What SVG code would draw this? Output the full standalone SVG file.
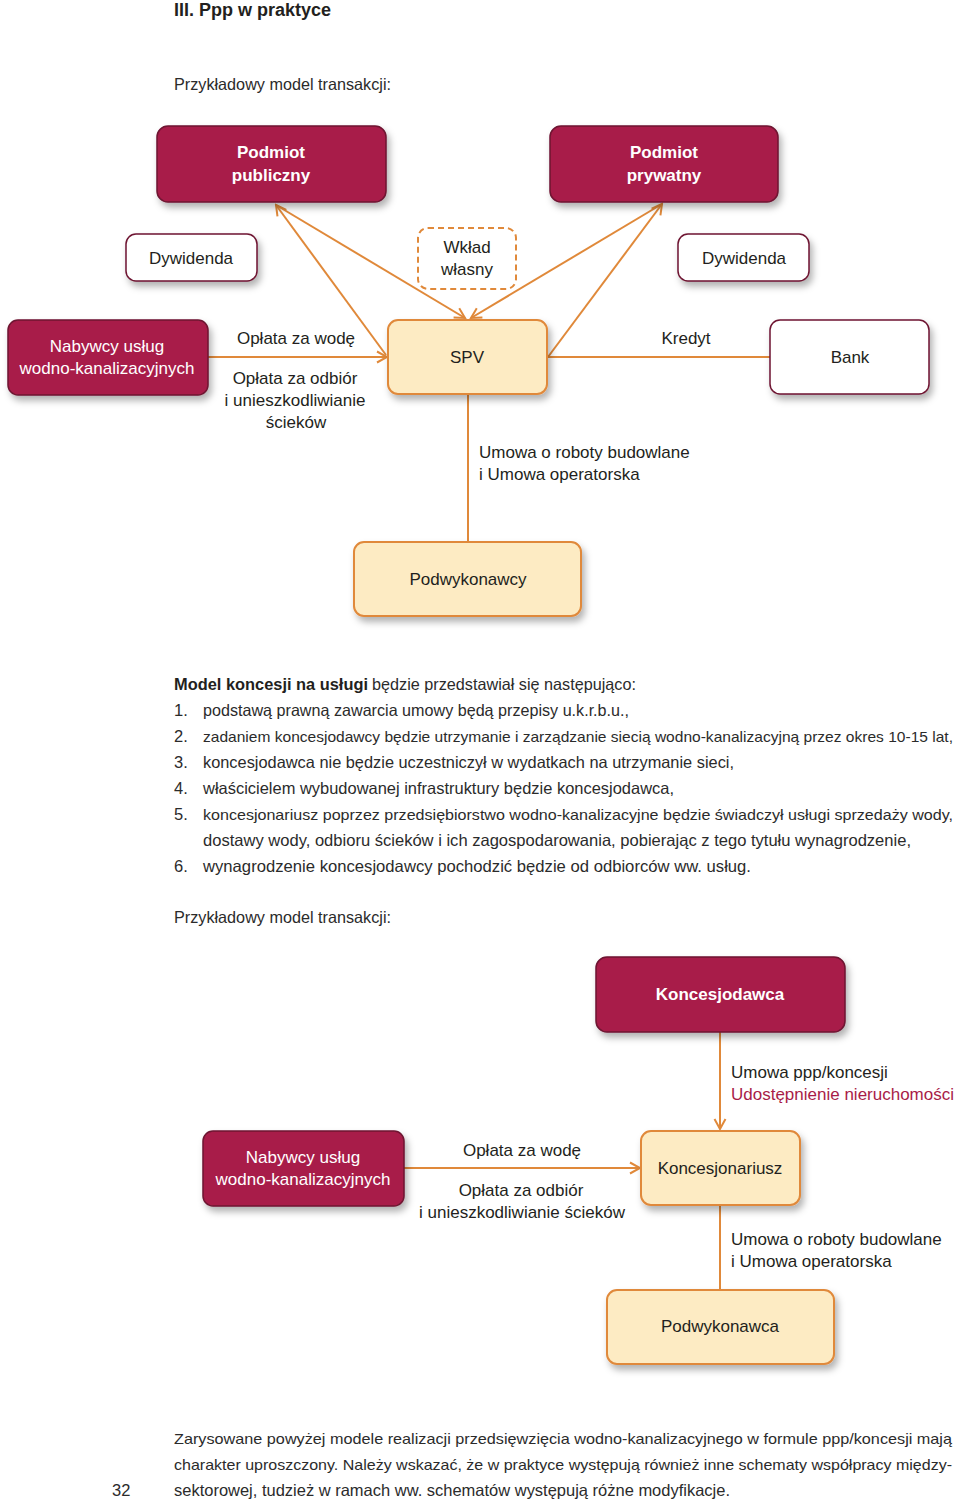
<svg xmlns="http://www.w3.org/2000/svg" width="960" height="1502" viewBox="0 0 960 1502">
<style>
text{font-family:"Liberation Sans",Arial,sans-serif;fill:#231f20}
.lbl{font-size:17px}
.mid{text-anchor:middle}
.body{font-size:16.5px;fill:#2b2b2b}
.long{font-size:15px}
.wt{fill:#ffffff}
.b{font-weight:bold}
.red{fill:#a81c48;stroke:#6e1431;stroke-width:1.5}
.cream{fill:#fdebc3;stroke:#e0893a;stroke-width:2}
.white{fill:#ffffff;stroke:#6e1431;stroke-width:1.5}
.dash{fill:#ffffff;stroke:#e0893a;stroke-width:2;stroke-dasharray:6 4}
.con{stroke:#e0893a;stroke-width:2;fill:none}
.arr{marker-end:url(#ah)}
</style>
<defs>
<filter id="sh" x="-20%" y="-20%" width="150%" height="160%">
<feDropShadow dx="3" dy="5" stdDeviation="3.5" flood-color="#000" flood-opacity="0.3"/>
</filter>
<marker id="ah" viewBox="-12 -7 14 14" refX="0" refY="0" markerWidth="14" markerHeight="14" markerUnits="userSpaceOnUse" orient="auto">
<path d="M-10,-5.5 L0,0 L-10,5.5" fill="none" stroke="#e0893a" stroke-width="2"/>
</marker>
</defs>
<rect width="960" height="1502" fill="#ffffff"/>

<text x="174" y="16" class="b" font-size="18">III. Ppp w praktyce</text>
<text x="174" y="90" class="body" textLength="217" lengthAdjust="spacingAndGlyphs">Przykładowy model transakcji:</text>

<g id="connectors1">
<line class="con arr" x1="386" y1="355" x2="276" y2="205"/>
<line class="con arr" x1="276" y1="205" x2="465" y2="318"/>
<line class="con arr" x1="662" y1="204" x2="471" y2="318"/>
<line class="con arr" x1="548" y1="357" x2="662" y2="204"/>
<line class="con arr" x1="208" y1="357" x2="387" y2="357"/>
<line class="con" x1="547" y1="357" x2="770" y2="357"/>
<line class="con" x1="468" y1="394" x2="468" y2="542"/>
</g>

<g id="podmiot-publiczny">
<rect class="red" x="157" y="126" width="229" height="76" rx="11" filter="url(#sh)"/>
<text x="271" y="158" class="lbl mid wt b">Podmiot</text>
<text x="271" y="181" class="lbl mid wt b">publiczny</text>
</g>
<g id="podmiot-prywatny">
<rect class="red" x="550" y="126" width="228" height="76" rx="11" filter="url(#sh)"/>
<text x="664" y="158" class="lbl mid wt b">Podmiot</text>
<text x="664" y="181" class="lbl mid wt b">prywatny</text>
</g>
<g id="dywidenda-l">
<rect class="white" x="126" y="234" width="131" height="47" rx="10" filter="url(#sh)"/>
<text x="191" y="264" class="lbl mid">Dywidenda</text>
</g>
<g id="wklad">
<rect class="dash" x="418" y="228" width="98" height="61" rx="10"/>
<text x="467" y="253" class="lbl mid">Wkład</text>
<text x="467" y="275" class="lbl mid">własny</text>
</g>
<g id="dywidenda-r">
<rect class="white" x="678" y="234" width="131" height="47" rx="10" filter="url(#sh)"/>
<text x="744" y="264" class="lbl mid">Dywidenda</text>
</g>
<g id="nabywcy1">
<rect class="red" x="8" y="320" width="200" height="75" rx="10" filter="url(#sh)"/>
<text x="107" y="352" class="lbl mid wt">Nabywcy usług</text>
<text x="107" y="374" class="lbl mid wt">wodno-kanalizacyjnych</text>
</g>
<g id="spv">
<rect class="cream" x="388" y="320" width="159" height="74" rx="10" filter="url(#sh)"/>
<text x="467" y="363" class="lbl mid">SPV</text>
</g>
<g id="bank">
<rect class="white" x="770" y="320" width="159" height="74" rx="10" filter="url(#sh)"/>
<text x="850" y="363" class="lbl mid">Bank</text>
</g>
<g id="podwykonawcy">
<rect class="cream" x="354" y="542" width="227" height="74" rx="10" filter="url(#sh)"/>
<text x="468" y="585" class="lbl mid">Podwykonawcy</text>
</g>

<g id="labels1">
<text x="296" y="344" class="lbl mid">Opłata za wodę</text>
<text x="295" y="384" class="lbl mid">Opłata za odbiór</text>
<text x="295" y="406" class="lbl mid">i unieszkodliwianie</text>
<text x="296" y="428" class="lbl mid">ścieków</text>
<text x="686" y="344" class="lbl mid">Kredyt</text>
<text x="479" y="458" class="lbl">Umowa o roboty budowlane</text>
<text x="479" y="480" class="lbl">i Umowa operatorska</text>
</g>

<g id="list">
<text x="174" y="690" class="body b" textLength="194" lengthAdjust="spacingAndGlyphs" style="fill:#231f20">Model koncesji na usługi</text>
<text x="372" y="690" class="body" textLength="264" lengthAdjust="spacingAndGlyphs">będzie przedstawiał się następująco:</text>
<text x="174" y="716" class="body">1.</text>
<text x="203" y="716" class="body" textLength="426" lengthAdjust="spacingAndGlyphs">podstawą prawną zawarcia umowy będą przepisy u.k.r.b.u.,</text>
<text x="174" y="742" class="body">2.</text>
<text x="203" y="742" class="body long" textLength="750" lengthAdjust="spacingAndGlyphs">zadaniem koncesjodawcy będzie utrzymanie i zarządzanie siecią wodno-kanalizacyjną przez okres 10-15 lat,</text>
<text x="174" y="768" class="body">3.</text>
<text x="203" y="768" class="body" textLength="531" lengthAdjust="spacingAndGlyphs">koncesjodawca nie będzie uczestniczył w wydatkach na utrzymanie sieci,</text>
<text x="174" y="794" class="body">4.</text>
<text x="203" y="794" class="body" textLength="471" lengthAdjust="spacingAndGlyphs">właścicielem wybudowanej infrastruktury będzie koncesjodawca,</text>
<text x="174" y="820" class="body">5.</text>
<text x="203" y="820" class="body long" textLength="750" lengthAdjust="spacingAndGlyphs">koncesjonariusz poprzez przedsiębiorstwo wodno-kanalizacyjne będzie świadczył usługi sprzedaży wody,</text>
<text x="203" y="846" class="body" textLength="708" lengthAdjust="spacingAndGlyphs">dostawy wody, odbioru ścieków i ich zagospodarowania, pobierając z tego tytułu wynagrodzenie,</text>
<text x="174" y="872" class="body">6.</text>
<text x="203" y="872" class="body" textLength="548" lengthAdjust="spacingAndGlyphs">wynagrodzenie koncesjodawcy pochodzić będzie od odbiorców ww. usług.</text>
<text x="174" y="923" class="body" textLength="217" lengthAdjust="spacingAndGlyphs">Przykładowy model transakcji:</text>
</g>

<g id="connectors2">
<line class="con arr" x1="720" y1="1032" x2="720" y2="1129"/>
<line class="con arr" x1="404" y1="1168" x2="640" y2="1168"/>
<line class="con" x1="720" y1="1205" x2="720" y2="1290"/>
</g>

<g id="koncesjodawca">
<rect class="red" x="596" y="957" width="249" height="75" rx="11" filter="url(#sh)"/>
<text x="720" y="1000" class="lbl mid wt b">Koncesjodawca</text>
</g>
<g id="nabywcy2">
<rect class="red" x="203" y="1131" width="201" height="75" rx="10" filter="url(#sh)"/>
<text x="303" y="1163" class="lbl mid wt">Nabywcy usług</text>
<text x="303" y="1185" class="lbl mid wt">wodno-kanalizacyjnych</text>
</g>
<g id="koncesjonariusz">
<rect class="cream" x="641" y="1131" width="159" height="74" rx="10" filter="url(#sh)"/>
<text x="720" y="1174" class="lbl mid">Koncesjonariusz</text>
</g>
<g id="podwykonawca">
<rect class="cream" x="607" y="1290" width="227" height="74" rx="10" filter="url(#sh)"/>
<text x="720" y="1332" class="lbl mid">Podwykonawca</text>
</g>

<g id="labels2">
<text x="731" y="1078" class="lbl">Umowa ppp/koncesji</text>
<text x="731" y="1100" class="lbl" style="fill:#a81c48">Udostępnienie nieruchomości</text>
<text x="522" y="1156" class="lbl mid">Opłata za wodę</text>
<text x="521" y="1196" class="lbl mid">Opłata za odbiór</text>
<text x="522" y="1218" class="lbl mid">i unieszkodliwianie ścieków</text>
<text x="731" y="1245" class="lbl">Umowa o roboty budowlane</text>
<text x="731" y="1267" class="lbl">i Umowa operatorska</text>
</g>

<g id="footer">
<text x="174" y="1444" class="body long" textLength="778" lengthAdjust="spacingAndGlyphs">Zarysowane powyżej modele realizacji przedsięwzięcia wodno-kanalizacyjnego w formule ppp/koncesji mają</text>
<text x="174" y="1470" class="body long" textLength="778" lengthAdjust="spacingAndGlyphs">charakter uproszczony. Należy wskazać, że w praktyce występują również inne schematy współpracy między-</text>
<text x="174" y="1496" class="body" textLength="556" lengthAdjust="spacingAndGlyphs">sektorowej, tudzież w ramach ww. schematów występują różne modyfikacje.</text>
<text x="112" y="1496" class="body">32</text>
</g>
</svg>
